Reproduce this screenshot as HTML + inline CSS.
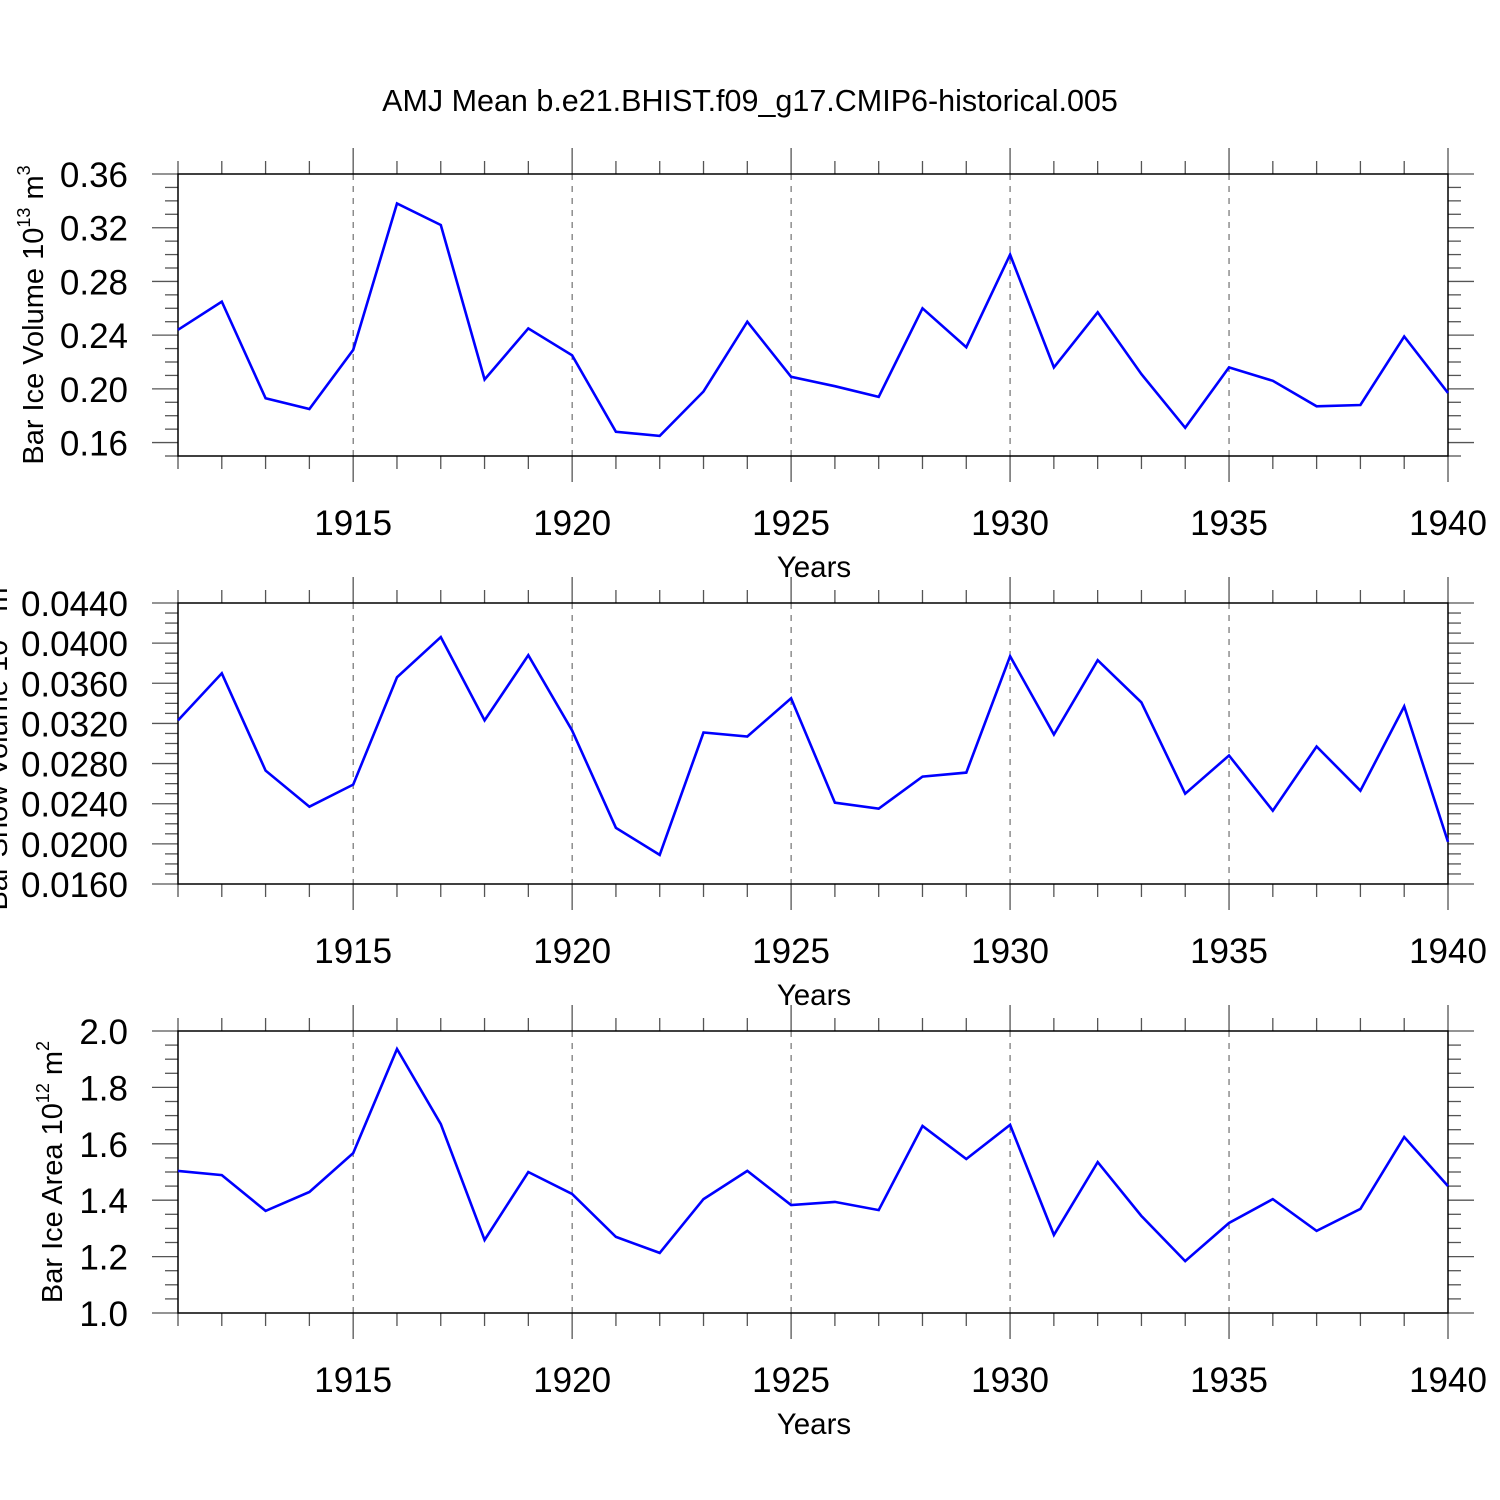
<!DOCTYPE html>
<html><head><meta charset="utf-8">
<style>
html,body{margin:0;padding:0;background:#fff;}
svg{display:block;font-family:"Liberation Sans",Arial,sans-serif;}
</style></head>
<body>
<svg id="chart" width="1500" height="1500" viewBox="0 0 1500 1500" xmlns="http://www.w3.org/2000/svg">
<rect width="1500" height="1500" fill="#fff"/>
<text x="750" y="111" font-size="30.5" text-anchor="middle">AMJ Mean b.e21.BHIST.f09_g17.CMIP6-historical.005</text>
</svg>
<script>
const years = [1911,1912,1913,1914,1915,1916,1917,1918,1919,1920,1921,1922,1923,1924,1925,1926,1927,1928,1929,1930,1931,1932,1933,1934,1935,1936,1937,1938,1939,1940];
const iceVolume = [0.244,0.265,0.193,0.185,0.229,0.338,0.322,0.207,0.245,0.225,0.168,0.165,0.198,0.250,0.209,0.202,0.194,0.260,0.231,0.300,0.216,0.257,0.211,0.171,0.216,0.206,0.187,0.188,0.239,0.197];
const snowVolume = [0.0323,0.0370,0.0273,0.0237,0.0259,0.0366,0.0406,0.0323,0.0388,0.0313,0.0216,0.0189,0.0311,0.0307,0.0345,0.0241,0.0235,0.0267,0.0271,0.0387,0.0309,0.0383,0.0341,0.0250,0.0288,0.0233,0.0297,0.0253,0.0337,0.0202];
const iceArea = [1.504,1.489,1.362,1.429,1.567,1.936,1.670,1.259,1.500,1.422,1.270,1.213,1.404,1.504,1.383,1.394,1.365,1.663,1.546,1.667,1.277,1.535,1.344,1.184,1.319,1.404,1.291,1.369,1.624,1.450];
const xTickLabels = ["1915","1920","1925","1930","1935","1940"];
const iceVolumeTicks = ["0.16","0.20","0.24","0.28","0.32","0.36"];
const snowVolumeTicks = ["0.0160","0.0200","0.0240","0.0280","0.0320","0.0360","0.0400","0.0440"];
const iceAreaTicks = ["1.0","1.2","1.4","1.6","1.8","2.0"];

const NS="http://www.w3.org/2000/svg";
const svg=document.getElementById('chart');
const X0=178, X1=1448, YMIN=1911, YMAX=1940;
function xs(y){return X0+(y-YMIN)/(YMAX-YMIN)*(X1-X0);}
function mk(tag,attrs,parent){const e=document.createElementNS(NS,tag);for(const k in attrs)e.setAttribute(k,attrs[k]);(parent||svg).appendChild(e);return e;}

function panel(cfg){
  const g=mk('g',{});
  
  
  const ys=v=>cfg.top+(cfg.vmax-v)/(cfg.vmax-cfg.vmin)*(cfg.bot-cfg.top);
  for(const lbl of xTickLabels){
    const yr=+lbl; if(yr>=YMAX) continue;
    const gl=mk('line',{x1:xs(yr),x2:xs(yr),y1:cfg.top,y2:cfg.bot,stroke:'#555','stroke-width':1,'stroke-dasharray':'6,6'},g);
    
    
  }
  for(let yr=YMIN;yr<=YMAX;yr++){
    const major=(yr%5===0);const L=major?26:13;const x=xs(yr);
    mk('line',{x1:x,x2:x,y1:cfg.top-L,y2:cfg.top,stroke:'#555','stroke-width':1.3},g);
    mk('line',{x1:x,x2:x,y1:cfg.bot,y2:cfg.bot+L,stroke:'#555','stroke-width':1.3},g);
  }
  for(let v=cfg.vmin;v<=cfg.vmax+1e-9;v+=cfg.minor){
    const y=ys(v);
    const isMaj=cfg.ticks.some(t=>Math.abs(+t-v)<cfg.minor/10);
    const L=isMaj?26:13;
    mk('line',{x1:X0-L,x2:X0,y1:y,y2:y,stroke:'#555','stroke-width':1.3},g);
    mk('line',{x1:X1,x2:X1+L,y1:y,y2:y,stroke:'#555','stroke-width':1.3},g);
  }
  for(const t of cfg.ticks){
    const tx=mk('text',{x:128,y:ys(+t)+13,'font-size':35,'text-anchor':'end'},g);
    tx.textContent=t;
    
    
  }
  for(const t of xTickLabels){
    const tx=mk('text',{x:xs(+t),y:cfg.bot+79,'font-size':35,'text-anchor':'middle'},g);
    tx.textContent=t;
    
    
  }
  const xt=mk('text',{x:814,y:cfg.bot+121,'font-size':29.5,'text-anchor':'middle'},g);
  xt.textContent='Years';
  
  
  const fr=mk('rect',{x:X0,y:cfg.top,width:X1-X0,height:cfg.bot-cfg.top,fill:'none',stroke:'#000','stroke-width':1.5},g);
  
  
  const pts=years.map((yr,i)=>xs(yr).toFixed(1)+','+ys(cfg.data[i]).toFixed(1)).join(' ');
  const pl=mk('polyline',{points:pts,fill:'none',stroke:'#0000ff','stroke-width':2.6,'stroke-linejoin':'miter'},g);
  
  
  const yt=mk('text',{transform:`translate(${cfg.tx},${cfg.ty}) rotate(-90)`,'font-size':29,'text-anchor':'middle'},g);
  
  
  const a=mk('tspan',{},yt);a.textContent=cfg.label+' 10';
  const b=mk('tspan',{'font-size':18,dy:-13},yt);b.textContent=cfg.exp;
  const c=mk('tspan',{dy:13},yt);c.textContent=' m';
  const d=mk('tspan',{'font-size':18,dy:-13},yt);d.textContent=cfg.unitExp;
}
panel({name:'ice-volume-panel',top:174,bot:456,vmin:0.15,vmax:0.36,minor:0.01,ticks:iceVolumeTicks,data:iceVolume,label:'Bar Ice Volume',exp:'13',unitExp:'3',tx:43,ty:315});
panel({name:'snow-volume-panel',top:603,bot:884,vmin:0.016,vmax:0.044,minor:0.001,ticks:snowVolumeTicks,data:snowVolume,label:'Bar Snow Volume',exp:'13',unitExp:'3',tx:7,ty:744});
panel({name:'ice-area-panel',top:1031,bot:1313,vmin:1.0,vmax:2.0,minor:0.05,ticks:iceAreaTicks,data:iceArea,label:'Bar Ice Area',exp:'12',unitExp:'2',tx:62,ty:1172});
</script>
</body></html>
